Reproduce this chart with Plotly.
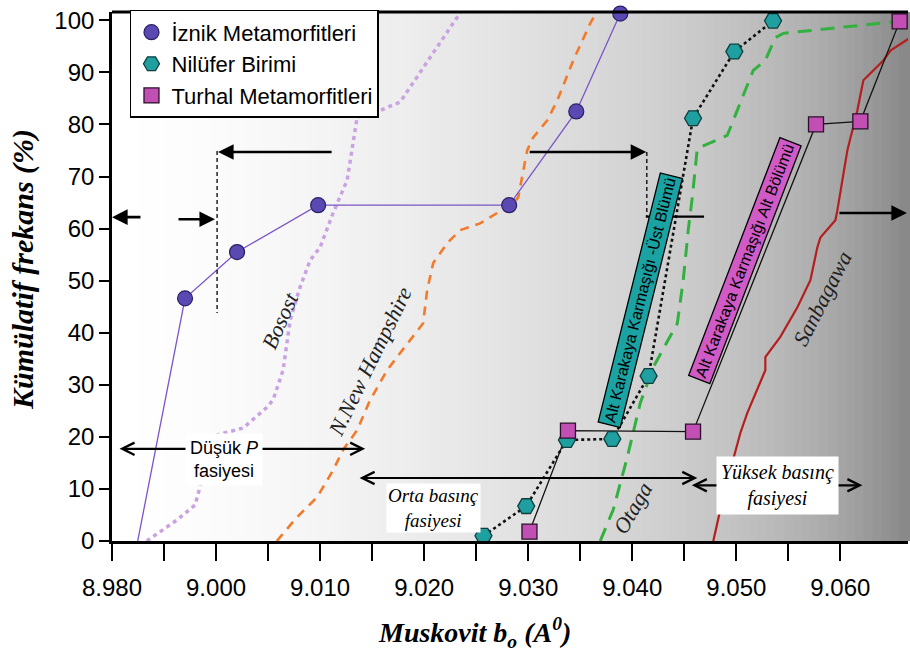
import plotly.graph_objects as go

# ---------------- data ----------------
x_tickvals = [8.99, 9.00, 9.01, 9.02, 9.03, 9.04, 9.05, 9.06]
x_ticktext = ["8.980", "9.000", "9.010", "9.020", "9.030", "9.040", "9.050", "9.060"]
x_minor = [8.995, 9.005, 9.015, 9.025, 9.035, 9.045, 9.055]
y_tickvals = [0, 10, 20, 30, 40, 50, 60, 70, 80, 90, 100]

iznik_x = [8.99702, 9.00202, 9.00981, 9.02817, 9.03462, 9.03885]
iznik_y = [46.6, 55.5, 64.5, 64.5, 82.5, 101.3]
iznik_start_x = [8.99247]
iznik_start_y = [0]

nil_x = [9.02570, 9.02981, 9.03372, 9.03808, 9.04157, 9.04584, 9.04981, 9.05353]
nil_y = [1.0, 6.7, 19.4, 19.6, 31.7, 81.2, 94.0, 99.9]

tur_x = [9.03012, 9.03382, 9.04584, 9.05766, 9.06192, 9.06570]
tur_y = [1.8, 21.2, 21.0, 80.0, 80.6, 99.8]

bosost_x = [8.99334, 8.99622, 8.99798, 8.99846, 8.99942, 9.00260, 9.00490, 9.00548,
            9.00644, 9.00712, 9.00808, 9.00904, 9.01000, 9.01125, 9.01260, 9.01356,
            9.01577, 9.01769, 9.02375]
bosost_y = [0, 4.0, 6.9, 10.4, 20.0, 21.7, 25.7, 27.1, 32.8, 42.4, 48.8, 53.9, 56.4,
            63.0, 69.3, 81.4, 82.7, 84.3, 102.3]

nnh_x = [9.00584, 9.00779, 9.00971, 9.01125, 9.01221, 9.01356, 9.01481, 9.01644,
         9.01769, 9.01990, 9.02029, 9.02087, 9.02221, 9.02346, 9.02538, 9.02702,
         9.02827, 9.02904, 9.02990, 9.03048, 9.03183, 9.03279, 9.03433, 9.03596, 9.03692]
nnh_y = [0, 4.6, 8.4, 13.6, 17.5, 21.3, 27.1, 32.8, 36.1, 41.8, 48.2, 53.4, 57.2,
         59.7, 61.0, 63.0, 64.1, 66.0, 75.0, 77.5, 80.8, 84.6, 92.3, 99.4, 102.9]

otaga_x = [9.03692, 9.03817, 9.03952, 9.04077, 9.04202, 9.04433, 9.04490, 9.04538,
           9.04577, 9.04625, 9.04913, 9.05163, 9.05279, 9.05375, 9.05452, 9.06481, 9.06654]
otaga_y = [0, 6.0, 16.1, 26.5, 33.4, 41.8, 50.1, 59.7, 66.0, 75.4, 77.9, 90.4, 92.3,
           96.7, 97.5, 99.6, 100.0]

sanb_x = [9.04779, 9.04846, 9.04942, 9.05038, 9.05106, 9.05202, 9.05279, 9.05279,
          9.05423, 9.05587, 9.05712, 9.05779, 9.05808, 9.05952, 9.05971, 9.06067,
          9.06163, 9.06221, 9.06413, 9.06481, 9.06673]
sanb_y = [0, 6.0, 13.6, 20.7, 24.6, 29.0, 32.8, 35.3, 39.2, 44.9, 50.1, 56.4, 58.3,
          61.6, 63.5, 75.0, 82.7, 88.5, 92.3, 94.2, 96.7]

X_RANGE = [8.99, 9.0665]
Y_RANGE = [0, 101.6]

SERIF = "Liberation Serif, Times New Roman, serif"
SANS = "Liberation Sans, Arial, sans-serif"

fig = go.Figure()

# reference curves
fig.add_trace(go.Scatter(x=bosost_x, y=bosost_y, mode="lines", showlegend=False,
                         line=dict(color="#c9a2e2", width=3.5, dash="4px,4px")))
fig.add_trace(go.Scatter(x=nnh_x, y=nnh_y, mode="lines", showlegend=False,
                         line=dict(color="#f27a2a", width=2.6, dash="9px,7px")))
fig.add_trace(go.Scatter(x=otaga_x, y=otaga_y, mode="lines", showlegend=False,
                         line=dict(color="#33b040", width=3, dash="14px,9px")))
fig.add_trace(go.Scatter(x=sanb_x, y=sanb_y, mode="lines", showlegend=False,
                         line=dict(color="#b41e1e", width=2.2)))

# sample connecting lines
fig.add_trace(go.Scatter(x=iznik_start_x + iznik_x, y=iznik_start_y + iznik_y, mode="lines",
                         showlegend=False, line=dict(color="#7a55c8", width=1.3)))
fig.add_trace(go.Scatter(x=nil_x, y=nil_y, mode="lines", showlegend=False,
                         line=dict(color="#111111", width=2.6, dash="dot")))
fig.add_trace(go.Scatter(x=tur_x, y=tur_y, mode="lines", showlegend=False,
                         line=dict(color="#111111", width=1.3)))

# sample markers
fig.add_trace(go.Scatter(x=iznik_x, y=iznik_y, mode="markers", name="İznik Metamorfitleri",
                         cliponaxis=False,
                         marker=dict(symbol="circle", size=15, color="#5a49b2",
                                     line=dict(color="#2a2066", width=1.2))))
fig.add_trace(go.Scatter(x=nil_x, y=nil_y, mode="markers", name="Nilüfer Birimi",
                         cliponaxis=False,
                         marker=dict(symbol="hexagon2", size=17, color="#1f9f9f",
                                     line=dict(color="#0f3f3f", width=1.3))))
fig.add_trace(go.Scatter(x=tur_x, y=tur_y, mode="markers", name="Turhal Metamorfitleri",
                         cliponaxis=False,
                         marker=dict(symbol="square", size=15, color="#c24fb4",
                                     line=dict(color="#2a102a", width=1.3))))

# ---------------- background gradient ----------------
shapes = []
N = 90
for i in range(N):
    t = (i + 0.5) / N
    g = int(round(255 - 80 * t ** 1.5 - 40 * t ** 8))
    shapes.append(dict(type="rect", xref="paper", yref="paper",
                       x0=i / N, x1=(i + 1) / N + 0.003, y0=0, y1=1,
                       fillcolor=f"rgb({g},{g},{g})", line=dict(width=0), layer="below"))
# top frame
shapes.append(dict(type="line", xref="paper", yref="paper", x0=0, x1=1, y0=1, y1=1,
                   line=dict(color="black", width=3)))
# dashed guides
shapes.append(dict(type="line", xref="x", yref="y", x0=9.0001, x1=9.0001, y0=74.9, y1=43.8,
                   line=dict(color="black", width=1.3, dash="4px,3px")))
shapes.append(dict(type="line", xref="x", yref="y", x0=9.0414, x1=9.0414, y0=74.7, y1=62.4,
                   line=dict(color="black", width=1.3, dash="4px,3px")))
shapes.append(dict(type="line", xref="x", yref="y", x0=9.0413, x1=9.0469, y0=62.3, y1=62.3,
                   line=dict(color="black", width=2.2)))

# ---------------- annotations ----------------
ann = []

def arrow(x0, y0, x1, y1, double=False, head=2, width=2.6, size=1.2):
    ann.append(dict(x=x1, y=y1, ax=x0, ay=y0, xref="x", yref="y", axref="x", ayref="y",
                    text="", showarrow=True, arrowhead=head, startarrowhead=head,
                    arrowside="end+start" if double else "end",
                    arrowwidth=width, arrowsize=size, startarrowsize=size,
                    arrowcolor="black", standoff=0, startstandoff=0))

arrow(9.01125, 74.7, 9.00019, 74.7)
arrow(8.99288, 62.2, 8.9900, 62.2)
arrow(8.99625, 61.8, 8.99990, 61.8)
arrow(9.03000, 74.7, 9.04135, 74.7)
arrow(9.05977, 63.0, 9.06640, 63.0)
arrow(8.99058, 17.7, 9.01433, 17.7, double=True, head=5, width=2.2, size=1.1)
arrow(9.01365, 12.1, 9.04625, 12.1, double=True, head=5, width=2.2, size=1.1)
arrow(9.04558, 10.7, 9.06212, 10.7, double=True, head=5, width=2.2, size=1.1)

# facies boxes
ann.append(dict(x=9.00077, y=15.7, xref="x", yref="y", showarrow=False,
                text="Düşük <i>P</i><br>fasiyesi", align="center",
                font=dict(family=SANS, size=18, color="black"),
                bgcolor="white", borderpad=4))
ann.append(dict(x=9.02087, y=6.4, xref="x", yref="y", showarrow=False,
                text="<i>Orta basınç<br>fasiyesi</i>", align="center",
                font=dict(family=SERIF, size=19, color="black"),
                bgcolor="white", borderpad=1))
ann.append(dict(x=9.05394, y=10.65, xref="x", yref="y", showarrow=False,
                text="<i>Yüksek basınç<br>fasiyesi</i>", align="center",
                font=dict(family=SERIF, size=20, color="black"),
                bgcolor="white", borderpad=4))

# curve labels
for txt, xx, yy, ang in [("Bosost", 9.00615, 42.4, -66),
                         ("N.New Hampshire", 9.01481, 34.4, -64),
                         ("Otaga", 9.04000, 6.3, -60),
                         ("Sanbagawa", 9.05827, 46.6, -63)]:
    ann.append(dict(x=xx, y=yy, xref="x", yref="y", showarrow=False,
                    text=f"<i>{txt}</i>", textangle=ang,
                    font=dict(family=SERIF, size=22, color="#222222")))

# rotated unit boxes
ann.append(dict(x=9.04077, y=46.3, xref="x", yref="y", showarrow=False,
                text="Alt Karakaya Karmaşığı -Üst Blümü", textangle=-76,
                font=dict(family=SANS, size=16, color="black"),
                bgcolor="#1ba3a3", bordercolor="black", borderwidth=1.3, borderpad=2))
ann.append(dict(x=9.05087, y=53.9, xref="x", yref="y", showarrow=False,
                text="Alt Karakaya Karmaşığı Alt Bölümü", textangle=-69,
                font=dict(family=SANS, size=16, color="black"),
                bgcolor="#d05ac6", bordercolor="black", borderwidth=1.3, borderpad=2))

# axis titles
ann.append(dict(x=0.456, y=-0.1727, xref="paper", yref="paper", showarrow=False,
                xanchor="center", yanchor="middle",
                text="<b><i>Muskovit b<sub>o</sub> (A<sup>0</sup>)</i></b>",
                font=dict(family=SERIF, size=28, color="black")))
ann.append(dict(x=-0.112, y=0.514, xref="paper", yref="paper", showarrow=False,
                xanchor="center", yanchor="middle", textangle=-90,
                text="<b><i>Kümülatif frekans (%)</i></b>",
                font=dict(family=SERIF, size=30, color="black")))

fig.update_layout(
    width=910, height=654,
    margin=dict(l=112, r=2, t=12, b=113),
    paper_bgcolor="white", plot_bgcolor="white",
    shapes=shapes, annotations=ann,
    showlegend=True,
    legend=dict(x=0.0226, y=1.004, xanchor="left", yanchor="top",
                bgcolor="white", bordercolor="black", borderwidth=1.5,
                font=dict(family=SANS, size=22, color="black"),
                itemsizing="trace"),
    xaxis=dict(range=X_RANGE, tickvals=x_tickvals, ticktext=x_ticktext,
               ticks="outside", ticklen=17, tickwidth=2.2, tickcolor="black",
               minor=dict(tickvals=x_minor, ticks="outside", ticklen=17, tickwidth=2.2,
                          tickcolor="black"),
               showline=True, linewidth=2.6, linecolor="black",
               showgrid=False, zeroline=False, ticklabelstandoff=6,
               tickfont=dict(family=SANS, size=24, color="black")),
    yaxis=dict(range=Y_RANGE, tickvals=y_tickvals,
               ticks="outside", ticklen=10, tickwidth=2.4, tickcolor="black",
               showline=True, linewidth=2.6, linecolor="black",
               showgrid=False, zeroline=False,
               tickfont=dict(family=SANS, size=24, color="black")),
)

fig.write_html("out.html", config={"displayModeBar": False},
               post_script="document.body.style.margin='0px';document.body.style.overflow='hidden';")
